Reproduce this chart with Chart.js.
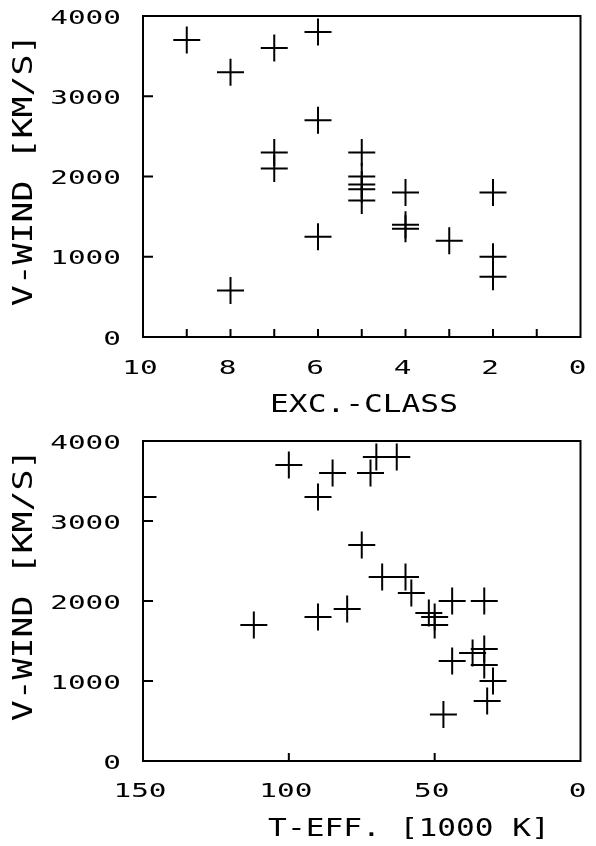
<!DOCTYPE html>
<html>
<head>
<meta charset="utf-8">
<script src="https://cdn.jsdelivr.net/npm/chart.js@4"></script>
<style>
  body { margin: 0; background: #fff; }
  canvas { position: absolute; left: 0; }
</style>
</head>
<body>
<canvas id="excChart" width="596" height="420" style="top:0"></canvas>
<canvas id="teffChart" width="596" height="426" style="top:420px"></canvas>
<script>
// top panel: excitation class against wind velocity
const excClass = [9, 8, 8, 7, 7, 7, 6, 6, 6, 5, 5, 5, 5, 5, 4, 4, 4, 3, 2, 2, 2];
const excWind  = [3700, 3300, 580, 3600, 2300, 2100, 3800, 2700, 1250, 2300, 2000, 1900, 1840, 1700, 1800, 1400, 1350, 1200, 1800, 1000, 750];

// bottom panel: effective temperature (1000 K) against wind velocity
const tEff     = [100, 150, 90, 85, 72, 70, 63, 75, 68, 60, 58, 90, 80, 112, 44, 33, 52, 50, 50, 47, 44, 37, 33, 33, 30, 32];
const teffWind = [3700, 3300, 3300, 3600, 3600, 3800, 3800, 2700, 2300, 2300, 2100, 1800, 1900, 1700, 2000, 2000, 1850, 1800, 1700, 580, 1250, 1350, 1400, 1200, 1000, 750];

// tick labels
const windLabels = [0, 1000, 2000, 3000, 4000];
const excLabels = [10, 8, 6, 4, 2, 0];
const teffLabels = [150, 100, 50, 0];

const FONT = "'DejaVu Sans Mono', monospace";

// plotter lettering is wide, so text is drawn stretched sideways
function wideText(ctx, text, x, y, sx, align, rot) {
    ctx.save();
    ctx.translate(x, y);
    if (rot) ctx.rotate(rot);
    ctx.scale(sx, 1);
    ctx.textAlign = align;
    ctx.textBaseline = "alphabetic";
    ctx.fillText(text, 0, 0);
    ctx.restore();
}

// box round the plot, inward tick marks, tick labels and axis titles
const frame = {
    id: "frame",
    afterDraw(chart, args, opts) {
        const ctx = chart.ctx;
        const a = chart.chartArea;
        const x = chart.scales.x, y = chart.scales.y;
        ctx.save();
        ctx.strokeStyle = "#000";
        ctx.fillStyle = "#000";
        ctx.lineWidth = 2;
        ctx.strokeRect(a.left, a.top, a.right - a.left, a.bottom - a.top);
        ctx.beginPath();
        x.ticks.forEach(t => {
            if (t.value === x.min || t.value === x.max) return;
            const px = x.getPixelForValue(t.value);
            ctx.moveTo(px, a.bottom);
            ctx.lineTo(px, a.bottom - 8);
        });
        y.ticks.forEach(t => {
            if (t.value === y.min || t.value === y.max) return;
            const py = y.getPixelForValue(t.value);
            ctx.moveTo(a.left, py);
            ctx.lineTo(a.left + 10, py);
        });
        ctx.stroke();

        ctx.font = "20px " + FONT;
        x.ticks.forEach(t => {
            if (!t.label) return;
            wideText(ctx, t.label, x.getPixelForValue(t.value) - 3, a.bottom + opts.xLabelDrop, 1.47, "center");
        });
        y.ticks.forEach(t => {
            if (!t.label) return;
            wideText(ctx, t.label, 121, y.getPixelForValue(t.value) + 7.5, 1.47, "right");
        });

        ctx.font = "24px " + FONT;
        wideText(ctx, opts.xTitle, opts.xTitleX, opts.xTitleY, 1.3, "center");
        ctx.font = "26px " + FONT;
        wideText(ctx, opts.yTitle, 32, opts.yTitleY, 1.34, "center", -Math.PI / 2);
        ctx.restore();
    }
};

function makePanel(id, xs, ys, xMax, xStep, xLabels, pad, xHeight, titles) {
    const points = xs.map((v, i) => ({x: v, y: ys[i]}));
    new Chart(document.getElementById(id), {
        type: "scatter",
        data: {
            datasets: [{
                data: points,
                pointStyle: "cross",
                pointRadius: 13.5,
                pointHoverRadius: 13.5,
                borderColor: "#000",
                backgroundColor: "#000",
                pointBorderWidth: 2,
                clip: 0
            }]
        },
        options: {
            responsive: false,
            animation: false,
            devicePixelRatio: 1,
            events: [],
            layout: {padding: pad},
            plugins: {
                legend: {display: false},
                tooltip: {enabled: false},
                frame: titles
            },
            scales: {
                x: {
                    type: "linear",
                    reverse: true,
                    min: 0,
                    max: xMax,
                    afterFit: s => { s.height = xHeight; },
                    grid: {display: false, drawTicks: false},
                    border: {display: false},
                    ticks: {
                        display: false,
                        stepSize: xStep,
                        callback: v => xLabels.includes(v) ? String(v) : ""
                    }
                },
                y: {
                    min: 0,
                    max: 4000,
                    afterFit: s => { s.width = 143; },
                    grid: {display: false, drawTicks: false},
                    border: {display: false},
                    ticks: {
                        display: false,
                        stepSize: 1000,
                        callback: v => windLabels.includes(v) ? String(v) : ""
                    }
                }
            }
        },
        plugins: [frame]
    });
}

makePanel("excChart", excClass, excWind, 10, 1, excLabels,
    {top: 16, right: 5, left: 0, bottom: 0}, 83, {
        xLabelDrop: 37, xTitle: "EXC.-CLASS", xTitleX: 364, xTitleY: 412,
        yTitle: "V-WIND [KM/S]", yTitleY: 170
    });

makePanel("teffChart", tEff, teffWind, 150, 50, teffLabels,
    {top: 21, right: 4, left: 0, bottom: 0}, 85, {
        xLabelDrop: 36, xTitle: "T-EFF. [1000 K]", xTitleX: 409, xTitleY: 416,
        yTitle: "V-WIND [KM/S]", yTitleY: 165
    });
</script>
</body>
</html>
